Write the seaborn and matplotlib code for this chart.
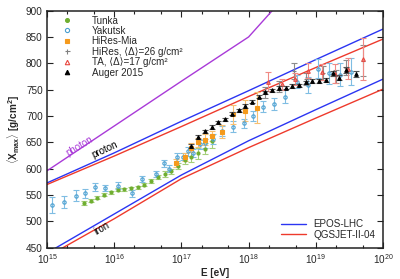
import numpy             as np
import matplotlib
matplotlib.use('Agg')
import matplotlib.pyplot as plt
import matplotlib.ticker as mticker
import pandas            as pd
import seaborn           as sns
from matplotlib.lines import Line2D

sns.set_theme(style = 'ticks')
plt.rcParams['font.family']      = ['Liberation Sans', 'DejaVu Sans']
plt.rcParams['mathtext.fontset'] = 'custom'
plt.rcParams['mathtext.rm']      = 'Liberation Sans'
plt.rcParams['mathtext.it']      = 'Liberation Sans:italic'
plt.rcParams['mathtext.bf']      = 'Liberation Sans:bold'

## ---- model lines (log10 E, Xmax) ----
model_lgE      = [15, 16, 17, 18, 19, 20]
epos_proton    = [573, 630, 690, 748, 807, 865]
qgs_proton     = [570, 624, 680, 737, 792, 846]
epos_iron      = [440, 514, 588, 653, 712, 770]
qgs_iron       = [433, 505, 581, 640, 696, 751]
photon_lgE     = [15, 16, 17, 18, 18.5]
photon_xmax    = [596, 681, 766, 850, 921]

## ---- data ----
tunka_lgE = [15.55, 15.65, 15.75, 15.85, 15.95, 16.05, 16.15, 16.25, 16.35, 16.45,
             16.55, 16.65, 16.75, 16.85, 16.95, 17.05, 17.15, 17.25, 17.35, 17.45]
tunka_x   = [535, 539, 545, 551, 555, 560, 561, 563, 565, 570,
             577, 584, 590, 595, 605, 617, 622, 629, 638, 652]
tunka_err = [3, 3, 3, 3, 3, 3, 3, 3, 3, 3, 4, 4, 5, 5, 6, 8, 9, 10, 11, 12]

yak_lgE = [15.08, 15.26, 15.43, 15.57, 15.71, 15.86, 16.05, 16.26, 16.42, 16.62,
           16.74, 16.82, 16.93, 17.02, 17.10, 17.18, 17.27, 17.35, 17.47, 17.60,
           17.77, 17.93, 18.07, 18.22, 18.38, 18.54, 18.72, 18.89, 19.04, 19.20,
           19.36, 19.53]
yak_x   = [531, 537, 549, 553, 565, 563, 568, 553, 580, 590,
           610, 600, 622, 623, 633, 630, 646, 648, 656, 672,
           680, 686, 700, 718, 723, 737, 765, 759, 790, 781,
           778, 784]
yak_err = [16, 12, 10, 8, 8, 6, 7, 6, 6, 6,
           7, 7, 7, 7, 8, 8, 9, 9, 9, 9,
           10, 9, 10, 10, 11, 12, 12, 15, 18, 20,
           22, 26]

mia_lgE = [16.92, 17.05, 17.15, 17.25, 17.35, 17.45, 17.61, 17.77, 17.95, 18.12]
mia_x   = [611, 622, 640, 650, 655, 662, 670, 703, 710, 716]
mia_err = [8, 8, 9, 9, 10, 10, 12, 18, 20, 30]

hires_lgE = [18.25, 18.45, 18.67, 18.85, 19.10, 19.30, 19.45, 19.70]
hires_x   = [745, 756, 785, 770, 781, 775, 792, 805]
hires_err = [10, 10, 15, 12, 13, 12, 15, 30]

ta_lgE = [18.29, 18.49, 18.69, 18.89, 19.09, 19.29, 19.48, 19.70]
ta_x   = [765, 760, 770, 786, 784, 780, 790, 808]
ta_err = [18, 10, 12, 14, 15, 18, 20, 40]

auger_lgE = [17.15, 17.25, 17.35, 17.45, 17.55, 17.65, 17.75, 17.85, 17.95, 18.05,
             18.15, 18.25, 18.35, 18.45, 18.55, 18.65, 18.75, 18.85, 18.95, 19.05,
             19.15, 19.25, 19.35, 19.45, 19.60]
auger_x   = [643, 660, 671, 679, 688, 694, 704, 711, 719, 727,
             737, 745, 749, 753, 754, 757, 758, 764, 766, 767,
             768, 781, 773, 787, 780]
auger_err = [4, 4, 3, 3, 3, 3, 3, 3, 3, 3,
             3, 3, 3, 3, 3, 3, 3, 3, 4, 4,
             4, 5, 5, 6, 6]

c_blue   = '#2b35f2'
c_red    = '#ee3a2c'
c_purple = '#a93ad8'

fig = plt.figure(figsize = (4, 2.79), dpi = 100)
ax  = fig.add_axes([0.1175, 0.112, 0.84, 0.85])

models = pd.DataFrame({'E': 10.0 ** np.array(model_lgE),
                       'EPOS p':  epos_proton, 'QGS p':  qgs_proton,
                       'EPOS Fe': epos_iron,   'QGS Fe': qgs_iron})
for col, c in [('EPOS p', c_blue), ('QGS p', c_red), ('EPOS Fe', c_blue), ('QGS Fe', c_red)]:
    sns.lineplot(data = models, x = 'E', y = col, color = c, lw = 1.0, ax = ax,
                 legend = False, zorder = 2)
sns.lineplot(x = 10.0 ** np.array(photon_lgE), y = photon_xmax, color = c_purple,
             lw = 1.0, ax = ax, legend = False, zorder = 2)

handles = []
def draw(lgE, x, err, mk, mc, ec, mfc, ms, zo, lab):
    ax.errorbar(10.0 ** np.array(lgE), x, yerr = err, fmt = mk, color = mc,
                ecolor = ec, mfc = mfc, mec = mc, ms = ms, mew = 0.8,
                elinewidth = 0.8, capsize = 2.2, capthick = 0.8, zorder = zo)
    handles.append(Line2D([], [], ls = 'none', marker = mk, color = mc, mfc = mfc,
                          mec = mc, ms = ms + 0.6, mew = 0.8, label = lab))

draw(tunka_lgE, tunka_x, tunka_err, 'o', '#6fae30', '#a5cf7a', '#6fae30', 2.2, 3, 'Tunka')
draw(yak_lgE,   yak_x,   yak_err,   'o', '#4a9fd0', '#7fbde3', 'none',    2.4, 3, 'Yakutsk')
draw(mia_lgE,   mia_x,   mia_err,   's', '#f59a1c', '#f7bf70', '#f59a1c', 2.2, 3, 'HiRes-Mia')
draw(hires_lgE, hires_x, hires_err, '+', '#808080', '#8c8c8c', '#808080', 3.0, 3,
     'HiRes, \u27e8\u0394\u27e9=26 g/cm\u00b2')
draw(ta_lgE,    ta_x,    ta_err,    '^', '#e8473f', '#f08a84', 'none',    2.6, 4,
     'TA, \u27e8\u0394\u27e9=17 g/cm\u00b2')
draw(auger_lgE, auger_x, auger_err, '^', 'black',   '#555555', 'black',   2.6, 5, 'Auger 2015')

## labels on model lines
ax.text(10 ** 15.49, 643, 'photon', color = c_purple, rotation = 31, fontsize = 7,
        ha = 'center', va = 'center')
ax.text(10 ** 15.86, 636, 'proton', color = 'black', rotation = 25, fontsize = 7,
        ha = 'center', va = 'center')
ax.text(10 ** 15.82, 487, 'iron', color = 'black', rotation = 30, fontsize = 7,
        ha = 'center', va = 'center')

ax.set_xscale('log')
ax.set_xlim(1e15, 1e20)
ax.set_ylim(450, 900)
ax.xaxis.set_major_locator(mticker.LogLocator(base = 10, numticks = 10))
ax.xaxis.set_minor_locator(mticker.LogLocator(base = 10, subs = [2, 5], numticks = 20))
ax.xaxis.set_minor_formatter(mticker.NullFormatter())
ax.yaxis.set_major_locator(mticker.MultipleLocator(50))
ax.tick_params(which = 'both', direction = 'in', top = True, right = True,
               labelsize = 7.2, width = 0.8, color = '#222222', pad = 3)
ax.tick_params(which = 'major', length = 4)
ax.tick_params(which = 'minor', length = 2.5)
for s in ax.spines.values():
    s.set_linewidth(1.1)
    s.set_color('#222222')

ax.set_xlabel('E [eV]', fontsize = 7.2, fontweight = 'bold', labelpad = 2)
ax.set_ylabel(r'$\langle\mathbf{X_{max}}\rangle$ [g/cm$^\mathbf{2}$]', fontsize = 7.2,
              fontweight = 'bold', labelpad = 3)

leg1 = ax.legend(handles = handles, loc = 'upper left', frameon = False, fontsize = 7.1,
                 handlelength = 1.0, handletextpad = 2.0, labelspacing = 0.04,
                 borderaxespad = 0.1, bbox_to_anchor = (0.03, 1.0))
ax.add_artist(leg1)
mh = [Line2D([], [], color = c_blue, lw = 1.0), Line2D([], [], color = c_red, lw = 1.0)]
ax.legend(mh, ['EPOS-LHC', 'QGSJET-II-04'], loc = 'lower right', frameon = False,
          fontsize = 7.1, handlelength = 2.6, handletextpad = 0.7, labelspacing = 0.05,
          borderaxespad = 0.4)

fig.savefig('out.png', dpi = 100)
